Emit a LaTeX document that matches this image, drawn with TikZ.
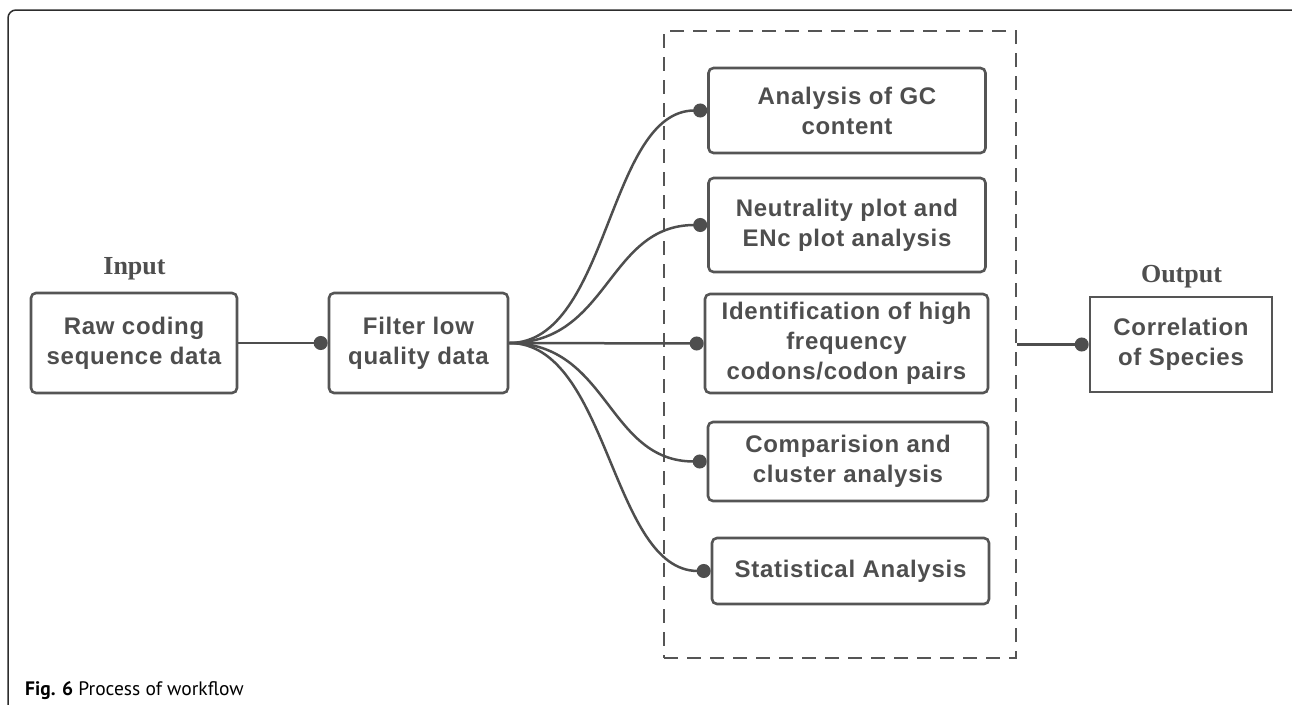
\documentclass[tikz,border=0pt]{standalone}
\usepackage{fontspec}
\setmainfont{Liberation Sans}
\newfontfamily\boxfont[LetterSpace=3]{Liberation Sans}
\newfontfamily\serifb{Liberation Serif}
\newfontfamily\capfont{PT Sans}
\usetikzlibrary{arrows.meta,calc}
\definecolor{ink}{RGB}{78,78,78}
\definecolor{edge}{RGB}{85,85,85}
\definecolor{frame}{RGB}{45,45,45}
\begin{document}
\begin{tikzpicture}[x=1pt,y=-1pt,
  box/.style={draw=edge, line width=2.6pt, rounded corners=5pt, align=center, text=ink,
    font=\boxfont\bfseries\fontsize{24}{30}\selectfont, inner sep=0pt},
  sqbox/.style={box, rounded corners=0pt},
  conn/.style={draw=ink, line width=2.5pt, -{Circle[length=14pt,width=14pt]}},
  lab/.style={text=ink, font=\serifb\bfseries\fontsize{26}{30}\selectfont, anchor=base, inner sep=0pt},
  group/.style={draw=edge, line width=2.8pt, dash pattern=on 14pt off 9pt, inner sep=0pt}]
\useasboundingbox (0,0) rectangle (1292,704);
% outer frame
\draw[draw=frame, line width=1.5pt, rounded corners=8pt] (8,706) -- (8,10) -- (1292,10);
% group box
\node[group, minimum width=352pt, minimum height=627pt] (grp) at (840,344.5) {};
% nodes
\node[box, minimum width=206pt, minimum height=100pt] (raw) at (134,343) {Raw coding\\sequence data};
\node[box, minimum width=179pt, minimum height=100pt] (filt) at (418.5,343) {Filter low\\quality data};
\node[box, minimum width=277pt, minimum height=85pt] (gc) at (847,110.5) {Analysis of GC\\content};
\node[box, minimum width=277pt, minimum height=94pt] (neu) at (847,225) {Neutrality plot and\\ENc plot analysis};
\node[box, minimum width=283pt, minimum height=99pt] (ide) at (846.5,343.5) {Identification of high\\frequency\\codons/codon pairs};
\node[box, minimum width=280pt, minimum height=79pt] (com) at (848,461.5) {Comparision and\\cluster analysis};
\node[box, minimum width=277pt, minimum height=66pt] (sta) at (850.5,571) {Statistical Analysis};
\node[sqbox, minimum width=182pt, minimum height=95pt] (out) at (1181,344.5) {Correlation\\of Species};
% labels
\node[lab] (inp) at (134.5,274) {Input};
\node[lab] (outp) at (1181.5,282) {Output};
% connectors
\draw[conn] (raw.east) -- (filt.west);
\draw[conn] (filt.east) .. controls ($(filt.east)+(100,0)$) and ($(gc.west)+(-100,0)$) .. (gc.west);
\draw[conn] (filt.east) .. controls ($(filt.east)+(100,0)$) and ($(neu.west)+(-100,0)$) .. (neu.west);
\draw[conn] (filt.east) -- (ide.west);
\draw[conn] (filt.east) .. controls ($(filt.east)+(100,0)$) and ($(com.west)+(-100,0)$) .. (com.west);
\draw[conn] (filt.east) .. controls ($(filt.east)+(100,0)$) and ($(sta.west)+(-100,0)$) .. (sta.west);
\draw[conn] (grp.east |- out.west) -- (out.west);
% caption
\node[anchor=base west, inner sep=0pt, font=\capfont\fontsize{19.5}{22}\selectfont] (cap) at (25,695) {\textbf{Fig. 6} Process of workflow};
\end{tikzpicture}
\end{document}
